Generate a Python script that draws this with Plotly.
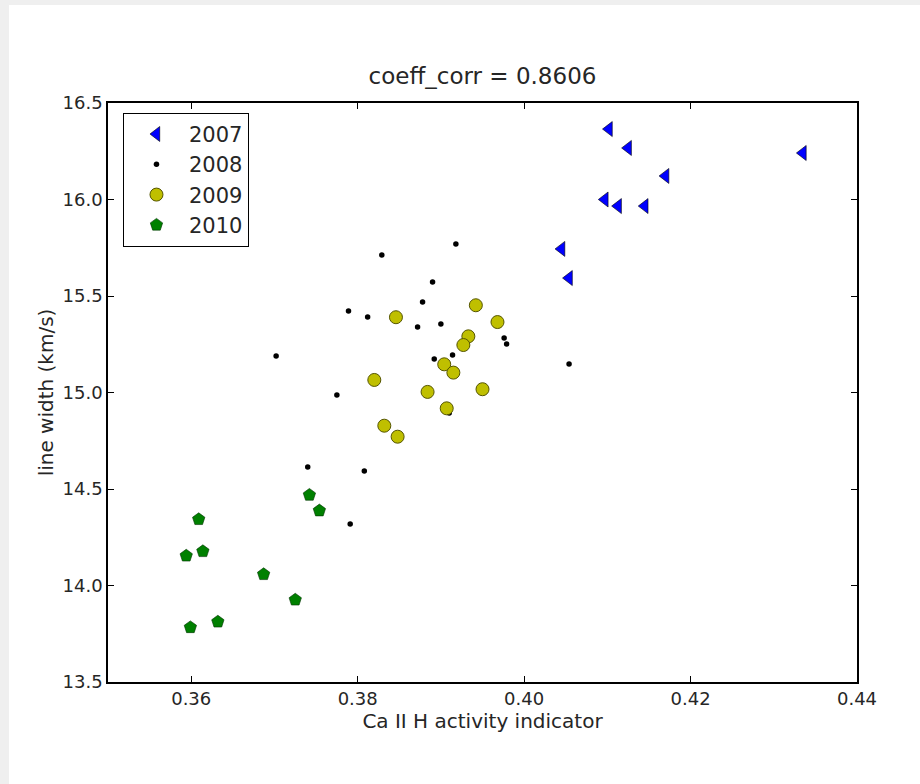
import plotly.graph_objects as go

x2007 = [0.4102, 0.4125, 0.4170, 0.4335, 0.4097, 0.4113, 0.4145, 0.4045, 0.4054]
y2007 = [16.365, 16.267, 16.122, 16.241, 16.000, 15.966, 15.966, 15.744, 15.593]

x2008 = [0.3918, 0.3829, 0.3890, 0.3789, 0.3812, 0.3878, 0.3872, 0.3900, 0.3702, 0.3892,
         0.3914, 0.3976, 0.3979, 0.4054, 0.3775, 0.3910, 0.3740, 0.3808, 0.3791]
y2008 = [15.769, 15.712, 15.573, 15.422, 15.391, 15.469, 15.339, 15.355, 15.189, 15.174,
         15.194, 15.282, 15.251, 15.148, 14.987, 14.894, 14.614, 14.593, 14.319]

x2009 = [0.3942, 0.3846, 0.3968, 0.3933, 0.3927, 0.3904, 0.3915, 0.3820, 0.3884, 0.3950,
         0.3907, 0.3832, 0.3848]
y2009 = [15.452, 15.390, 15.365, 15.291, 15.246, 15.146, 15.103, 15.065, 15.003, 15.017,
         14.918, 14.828, 14.771]

x2010 = [0.3742, 0.3754, 0.3609, 0.3594, 0.3614, 0.3687, 0.3725, 0.3632, 0.3599]
y2010 = [14.469, 14.388, 14.343, 14.154, 14.177, 14.058, 13.926, 13.812, 13.783]

x_ticks = [0.36, 0.38, 0.40, 0.42, 0.44]
y_ticks = [13.5, 14.0, 14.5, 15.0, 15.5, 16.0, 16.5]

FONT = "DejaVu Sans"
TXT = "#262626"

fig = go.Figure()
fig.add_trace(go.Scatter(x=x2007, y=y2007, mode="markers", name="2007",
                         marker=dict(symbol="triangle-left", size=13, color="#0000ff",
                                     line=dict(color="#000000", width=0.6))))
fig.add_trace(go.Scatter(x=x2008, y=y2008, mode="markers", name="2008",
                         marker=dict(symbol="circle", size=5.5, color="#000000",
                                     line=dict(width=0))))
fig.add_trace(go.Scatter(x=x2009, y=y2009, mode="markers", name="2009",
                         marker=dict(symbol="circle", size=13, color="#bfbf00",
                                     line=dict(color="#555500", width=1))))
fig.add_trace(go.Scatter(x=x2010, y=y2010, mode="markers", name="2010",
                         marker=dict(symbol="pentagon", size=13, color="#008000",
                                     line=dict(color="#003300", width=0.6))))

axis_common = dict(showgrid=False, zeroline=False, showline=True, linecolor="#000000",
                   linewidth=1.5, mirror="ticks", ticks="inside", ticklen=6,
                   tickcolor="#000000", tickwidth=1,
                   tickfont=dict(family=FONT, size=18, color=TXT))

fig.update_layout(
    width=920, height=784,
    margin=dict(l=108, r=63, t=103, b=102),
    paper_bgcolor="#efefef",
    plot_bgcolor="#ffffff",
    title=dict(text="coeff_corr = 0.8606", x=0.5, xref="paper", xanchor="center",
               y=1 - 76 / 784, yanchor="middle",
               font=dict(family=FONT, size=23, color=TXT)),
    xaxis=dict(range=[0.35, 0.44], tickvals=x_ticks,
               ticktext=["%.2f" % v for v in x_ticks],
               title=dict(text="Ca II H activity indicator", standoff=3,
                          font=dict(family=FONT, size=20, color=TXT)),
               **axis_common),
    yaxis=dict(range=[13.5, 16.5], tickvals=y_ticks,
               ticktext=["%.1f" % v for v in y_ticks],
               title=dict(text="line width (km/s)", standoff=4,
                          font=dict(family=FONT, size=20, color=TXT)),
               **axis_common),
    legend=dict(x=0.02, y=0.983, xanchor="left", yanchor="top",
                bgcolor="#ffffff", bordercolor="#000000", borderwidth=1,
                font=dict(family=FONT, size=21, color=TXT),
                tracegroupgap=0, itemsizing="trace", itemwidth=55),
    shapes=[dict(type="rect", xref="paper", yref="paper", layer="below",
                 x0=-99 / 749, x1=(920 - 108) / 749, y0=-102 / 579, y1=(784 - 5 - 102) / 579,
                 fillcolor="#ffffff", line=dict(width=0))],
)

fig.write_html("out.html")
